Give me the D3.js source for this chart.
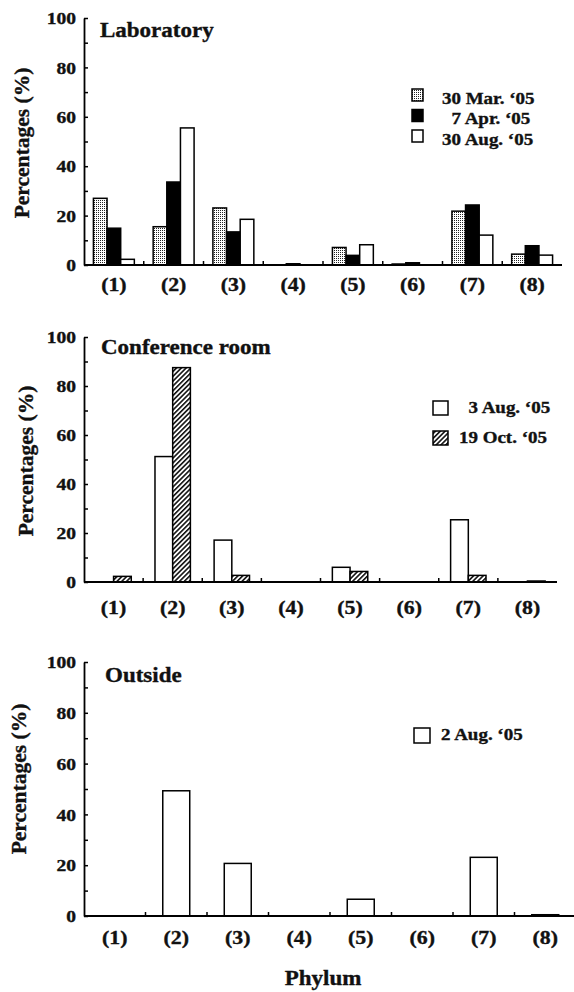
<!DOCTYPE html>
<html>
<head>
<meta charset="utf-8">
<script src="https://cdn.jsdelivr.net/npm/d3@7"></script>
<style>
	html, body { margin: 0; padding: 0; background: #fff; }
	svg { display: block; }
	text {
		font-family: 'Liberation Serif', 'Times New Roman', serif;
		font-weight: bold;
		fill: #111;
		stroke: #111;
		stroke-width: 0.35px;
	}
</style>
</head>
<body>
<div id="chart"></div>
<script>
// categories and tick labels
const phyla = ['(1)', '(2)', '(3)', '(4)', '(5)', '(6)', '(7)', '(8)']
const yTicks = [0, 20, 40, 60, 80, 100]
const yMinorTicks = [10, 30, 50, 70, 90]

// Laboratory
const labDates = ['30 Mar. ‘05', '\u20077 Apr. ‘05', '30 Aug. ‘05']
const lab30Mar = [27, 15.5, 23.1, 0, 7.1, 0.4, 21.8, 4.4]
const lab7Apr = [14.9, 33.6, 13.4, 0.5, 3.9, 0.9, 24.3, 7.8]
const lab30Aug = [2.3, 55.5, 18.5, 0, 8.2, 0, 12.1, 4]

// Conference room
const confDates = ['\u20073 Aug. ‘05', '19 Oct. ‘05']
const conf3Aug = [0, 51.2, 17.1, 0, 6, 0, 25.4, 0]
const conf19Oct = [2.3, 87.5, 2.7, 0, 4.3, 0, 2.7, 0.4]

// Outside
const outDates = ['2 Aug. ‘05']
const out2Aug = [0, 49.3, 20.7, 0, 6.6, 0, 23.1, 0.5]

const width = 574
const height = 992
const SX = 1.15 // the original lettering is a bit wide

const panels = [
	{
		title: 'Laboratory', dates: labDates, series: [lab30Mar, lab7Apr, lab30Aug],
		fills: ['url(#dots)', '#000', '#fff'],
		left: 84, right: 562, bottom: 265, top: 18, groupPad: 0.69,
		titleX: 100, titleY: 37, tickDy: 26, yTitleX: 29, yTitleY: 143,
		legend: {x: 412, y: 89, w: 11, h: 12, step: 20.5, textX: 442, textDy: 14.5},
	},
	{
		title: 'Conference room', dates: confDates, series: [conf3Aug, conf19Oct],
		fills: ['#fff', 'url(#hatch)'],
		left: 84, right: 557, bottom: 582, top: 337, groupPad: 0.67,
		titleX: 101, titleY: 354, tickDy: 32, yTitleX: 33, yTitleY: 461,
		legend: {x: 433, y: 401, w: 15, h: 14, step: 30, textX: 459, textDy: 11.5},
	},
	{
		title: 'Outside', dates: outDates, series: [out2Aug],
		fills: ['#fff'],
		left: 84, right: 576, bottom: 916, top: 662, groupPad: 0.64,
		titleX: 105, titleY: 682, tickDy: 28, yTitleX: 26, yTitleY: 779,
		legend: {x: 414, y: 728, w: 16, h: 15, step: 0, textX: 441, textDy: 12},
	},
]

const svg = d3
	.select('#chart')
	.append('svg')
	.attr('width', width)
	.attr('height', height)

const defs = svg.append('defs')
const dots = defs
	.append('pattern')
	.attr('id', 'dots')
	.attr('patternUnits', 'userSpaceOnUse')
	.attr('width', 2)
	.attr('height', 2)
dots.append('rect').attr('width', 2).attr('height', 2).attr('fill', '#fff')
dots.append('rect').attr('width', 1).attr('height', 1).attr('fill', '#222')

const hatch = defs
	.append('pattern')
	.attr('id', 'hatch')
	.attr('patternUnits', 'userSpaceOnUse')
	.attr('width', 3.4)
	.attr('height', 3.4)
	.attr('patternTransform', 'rotate(45)')
hatch.append('rect').attr('width', 3.4).attr('height', 3.4).attr('fill', '#fff')
hatch
	.append('line')
	.attr('x1', 0.8).attr('y1', 0)
	.attr('x2', 0.8).attr('y2', 3.4)
	.attr('stroke', '#000')
	.attr('stroke-width', 1.5)

// text drawn with a small horizontal stretch
function label(g, str, x, y, size, anchor = 'start') {
	return g
		.append('text')
		.attr('transform', `translate(${x},${y}) scale(${SX},1)`)
		.attr('font-size', size)
		.attr('text-anchor', anchor)
		.text(str)
}

panels.forEach(drawPanel)

label(svg, 'Phylum', 323, 985, 20, 'middle')

function drawPanel(p) {
	const g = svg.append('g')

	const x = d3.scaleBand().domain(phyla).range([p.left, p.right])
	const sub = d3
		.scaleBand()
		.domain(d3.range(p.series.length))
		.range([0, x.bandwidth()])
		.paddingOuter(p.groupPad)
	const y = d3.scaleLinear().domain([0, 100]).range([p.bottom, p.top])

	// bars
	p.series.forEach((values, s) => {
		g.append('g')
			.selectAll('rect')
			.data(values.map((v, i) => ({v, c: phyla[i]})).filter((d) => d.v > 0))
			.join('rect')
			.attr('x', (d) => x(d.c) + sub(s))
			.attr('y', (d) => y(d.v))
			.attr('width', sub.bandwidth())
			.attr('height', (d) => y(0) - y(d.v))
			.attr('fill', p.fills[s])
			.attr('stroke', '#000')
			.attr('stroke-width', 1.5)
	})

	// y axis, ticks pointing inwards
	const yAxis = g
		.append('g')
		.attr('transform', `translate(${p.left},0)`)
		.call(
			d3
				.axisLeft(y)
				.tickValues(yTicks.concat(yMinorTicks))
				.tickSize(-4)
				.tickSizeOuter(0)
				.tickFormat((d) => (yTicks.includes(d) ? d : ''))
		)
	yAxis.attr('font-family', null)
	yAxis.select('.domain').attr('stroke', '#000').attr('stroke-width', 1.8)
	yAxis.selectAll('.tick line').attr('stroke', '#000').attr('stroke-width', 1.5)
	yAxis
		.selectAll('.tick text')
		.attr('x', null)
		.attr('dy', '0.34em')
		.attr('font-size', 17)
		.attr('transform', `translate(-8,0) scale(${SX},1)`)

	// x axis
	g.append('line')
		.attr('x1', p.left).attr('x2', p.right)
		.attr('y1', p.bottom).attr('y2', p.bottom)
		.attr('stroke', '#000')
		.attr('stroke-width', 1.8)
	g.append('g')
		.selectAll('line')
		.data(phyla.slice(1))
		.join('line')
		.attr('x1', (d) => x(d)).attr('x2', (d) => x(d))
		.attr('y1', p.bottom).attr('y2', p.bottom - 4)
		.attr('stroke', '#000')
		.attr('stroke-width', 1.5)
	phyla.forEach((c) => label(g, c, x(c) + x.bandwidth() / 2, p.bottom + p.tickDy, 19, 'middle'))

	// titles
	label(g, p.title, p.titleX, p.titleY, 20)
	g.append('text')
		.attr('transform', `translate(${p.yTitleX},${p.yTitleY}) rotate(-90)`)
		.attr('font-size', 21.5)
		.attr('text-anchor', 'middle')
		.text('Percentages (%)')

	// legend
	const L = p.legend
	p.dates.forEach((date, j) => {
		g.append('rect')
			.attr('x', L.x)
			.attr('y', L.y + j * L.step)
			.attr('width', L.w)
			.attr('height', L.h)
			.attr('fill', p.fills[j])
			.attr('stroke', '#000')
			.attr('stroke-width', 1.5)
		label(g, date, L.textX, L.y + j * L.step + L.textDy, 16.5)
	})
}
</script>
</body>
</html>
